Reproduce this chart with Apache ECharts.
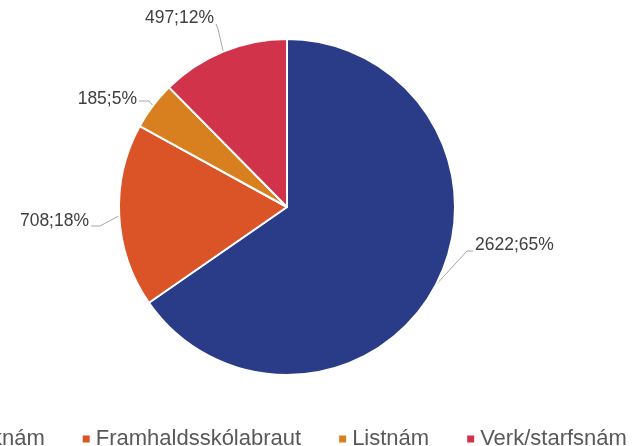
<!DOCTYPE html>
<html>
<head>
<meta charset="utf-8">
<script src="https://cdn.jsdelivr.net/npm/echarts@6/dist/echarts.min.js"></script>
<style>
  html, body { margin: 0; padding: 0; background: #fff; }
  #chart { width: 633px; height: 446px; }
</style>
</head>
<body>
<div id="chart"></div>
<script>
// gögn
var categories = ['Bóknám', 'Framhaldsskólabraut', 'Listnám', 'Verk/starfsnám'];
var values = [2622, 708, 185, 497];
var colors = ['#2A3B88', '#DA5427', '#D8801F', '#D1334A'];

var total = values.reduce(function (a, b) { return a + b; }, 0);

// hvar merkin eiga að lenda (texti + brot á línu)
var labelSpots = [
    {x: 475, y: 245, align: 'left', bend: [467, 251], end: [473, 251]},
    {x: 89, y: 221, align: 'right', bend: [100, 226], end: [91, 226]},
    {x: 137, y: 99, align: 'right', bend: [149, 101], end: [139, 101]},
    {x: 214, y: 18, align: 'right', bend: [218, 29], end: [216, 24]}
];

var myChart = echarts.init(document.getElementById('chart'));

var pieData = [];
for (var i = 0; i < categories.length; i++) {
    pieData.push({name: categories[i], value: values[i], itemStyle: {color: colors[i]}});
}

myChart.setOption({
    animation: false,
    legend: {
        data: categories,
        orient: 'horizontal',
        left: -56,
        top: 423,
        width: 900,
        icon: 'rect',
        itemWidth: 9,
        itemHeight: 9,
        itemGap: 36,
        textStyle: {
            fontFamily: 'Liberation Sans',
            fontSize: 22,
            color: '#595959'
        }
    },
    series: [{
        type: 'pie',
        center: [287, 207],
        radius: 168,
        startAngle: 90,
        clockwise: true,
        data: pieData,
        itemStyle: {
            borderColor: '#fff',
            borderWidth: 2
        },
        label: {
            show: true,
            fontFamily: 'Liberation Sans',
            fontSize: 17.5,
            color: '#404040',
            formatter: function (p) {
                return p.value + ';' + Math.round(p.value / total * 100) + '%';
            }
        },
        labelLine: {
            show: true,
            length: 15,
            length2: 10,
            lineStyle: {color: '#A6A6A6', width: 1}
        },
        labelLayout: function (params) {
            var s = labelSpots[params.dataIndex];
            var edge = params.labelLinePoints ? params.labelLinePoints[0] : s.bend;
            return {
                x: s.x,
                y: s.y,
                align: s.align,
                verticalAlign: 'middle',
                labelLinePoints: [edge, s.bend, s.end]
            };
        }
    }]
});
</script>
</body>
</html>
